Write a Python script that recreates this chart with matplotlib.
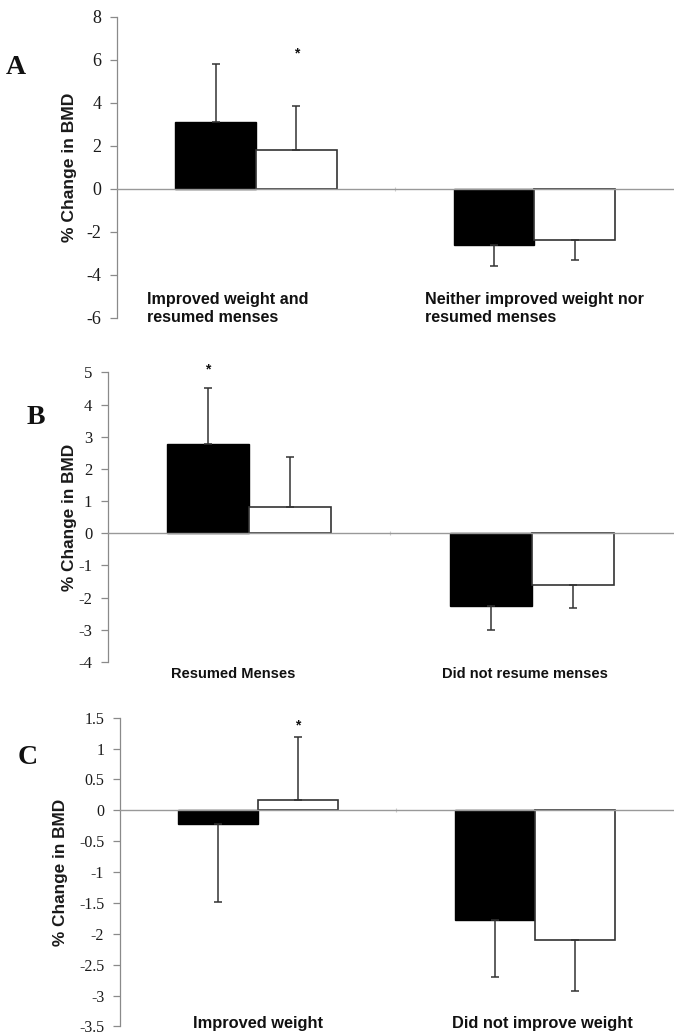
import matplotlib
matplotlib.use("Agg")
import matplotlib.pyplot as plt
import numpy as np

plt.rcParams['axes.unicode_minus'] = False

# ---------------- data ----------------
cats_A = ["Improved weight and\nresumed menses", "Neither improved weight nor\nresumed menses"]
black_A = [3.1, -2.62]
black_err_A = [2.72, 0.95]
white_A = [1.8, -2.36]
white_err_A = [2.08, 0.93]
yticks_A = [8, 6, 4, 2, 0, -2, -4, -6]
star_A = ("white", 0, 6.3)

cats_B = ["Resumed Menses", "Did not resume menses"]
black_B = [2.77, -2.26]
black_err_B = [1.73, 0.76]
white_B = [0.82, -1.61]
white_err_B = [1.56, 0.71]
yticks_B = [5, 4, 3, 2, 1, 0, -1, -2, -3, -4]
star_B = ("black", 0, 5.1)

cats_C = ["Improved weight", "Did not improve weight"]
black_C = [-0.22, -1.78]
black_err_C = [1.26, 0.92]
white_C = [0.17, -2.10]
white_err_C = [1.02, 0.83]
yticks_C = [1.5, 1, 0.5, 0, -0.5, -1, -1.5, -2, -2.5, -3, -3.5]
ytick_labels_C = ["1.5", "1", "0.5", "0", "-0.5", "-1", "-1.5", "-2", "-2.5", "-3", "-3.5"]
star_C = ("white", 0, 1.38)

panel_letters = ["A", "B", "C"]
ylabel_text = "% Change in BMD"

# ---------------- style ----------------
SERIF = "Liberation Serif"
SANS = "Liberation Sans"
GRAY = "#8a8a8a"
EDGE = "#333333"
W = 0.29

fig = plt.figure(figsize=(6.74, 10.36), dpi=100)

def one_sided(vals, errs):
    lo = [e if v < 0 else 0 for v, e in zip(vals, errs)]
    hi = [e if v >= 0 else 0 for v, e in zip(vals, errs)]
    return [lo, hi]

def panel(rect, black, berr, white, werr, yticks, yticklabels, star,
          tick_fs, ylabel_x, ylabel_fs):
    ax = fig.add_axes(rect)
    x = np.arange(len(black))
    xb = x - W / 2
    xw = x + W / 2
    ax.bar(xb, black, width=W, color="black", edgecolor="black", linewidth=1.0, zorder=2)
    ax.bar(xw, white, width=W, color="white", edgecolor=EDGE, linewidth=1.2, zorder=2)
    ax.errorbar(xb, black, yerr=one_sided(black, berr), fmt="none", ecolor=EDGE,
                elinewidth=1.1, capsize=3.2, capthick=1.1, zorder=3)
    ax.errorbar(xw, white, yerr=one_sided(white, werr), fmt="none", ecolor=EDGE,
                elinewidth=1.1, capsize=3.2, capthick=1.1, zorder=3)
    series, ci, sy = star
    sx = (xb if series == "black" else xw)[ci]
    ax.text(sx, sy, "*", ha="center", va="center", fontsize=10, fontweight="bold",
            family=SANS, color="#111111")
    ax.set_xlim(-0.5, len(black) - 0.5)
    ax.set_ylim(min(yticks), max(yticks))
    ax.set_yticks(yticks)
    ax.set_yticklabels(yticklabels, fontsize=tick_fs, family=SERIF, color="#1a1a1a")
    ax.tick_params(axis="y", direction="out", length=5, width=0.9, color=GRAY, pad=6)
    ax.spines["top"].set_visible(False)
    ax.spines["right"].set_visible(False)
    ax.spines["left"].set_color(GRAY)
    ax.spines["left"].set_linewidth(0.9)
    ax.spines["bottom"].set_position(("data", 0))
    ax.spines["bottom"].set_color("#999999")
    ax.spines["bottom"].set_linewidth(1.0)
    ax.set_xticks([0.5])
    ax.set_xticklabels([""])
    ax.tick_params(axis="x", direction="inout", length=3, width=0.8, color="#cccccc")
    ax.text(ylabel_x, 0.5, ylabel_text, rotation=90, ha="center", va="center",
            transform=ax.transAxes, fontsize=ylabel_fs, fontweight="bold", family=SANS,
            color="#1a1a1a")
    return ax

# Panel A
axA = panel([0.1736, 0.6931, 0.8254, 0.2905], black_A, black_err_A, white_A, white_err_A,
            yticks_A, [str(t) for t in yticks_A], star_A, 13, -0.0845, 12.6)
for xi, lab in zip([-0.392, 0.606], cats_A):
    axA.text(xi, -5.57, lab, ha="left", va="center", fontsize=11.6, fontweight="bold",
             family=SANS, linespacing=1.25, color="#111111", clip_on=False)

# Panel B
axB = panel([0.1595, 0.3610, 0.8395, 0.2796], black_B, black_err_B, white_B, white_err_B,
            yticks_B, [str(t) for t in yticks_B], star_B, 12, -0.0663, 12.4)
for xi, lab in zip([-0.057, 0.977], cats_B):
    axB.text(xi, -4.36, lab, ha="center", va="center", fontsize=10.5, fontweight="bold",
             family=SANS, color="#111111", clip_on=False)

# Panel C
axC = panel([0.1773, 0.0092, 0.8217, 0.2980], black_C, black_err_C, white_C, white_err_C,
            yticks_C, ytick_labels_C, star_C, 11.5, -0.1074, 12.4)
for xi, lab in zip([0.0, 1.027], cats_C):
    axC.text(xi, -3.46, lab, ha="center", va="center", fontsize=11.8, fontweight="bold",
             family=SANS, color="#111111", clip_on=False)

# Panel letters
for (px, py), letter in zip([(16, 68), (36, 418), (28, 758)], panel_letters):
    fig.text(px / 674, 1 - py / 1036, letter, ha="center", va="center", fontsize=20,
             fontweight="bold", family=SERIF, color="#111111")

fig.savefig("out.png", dpi=100)
